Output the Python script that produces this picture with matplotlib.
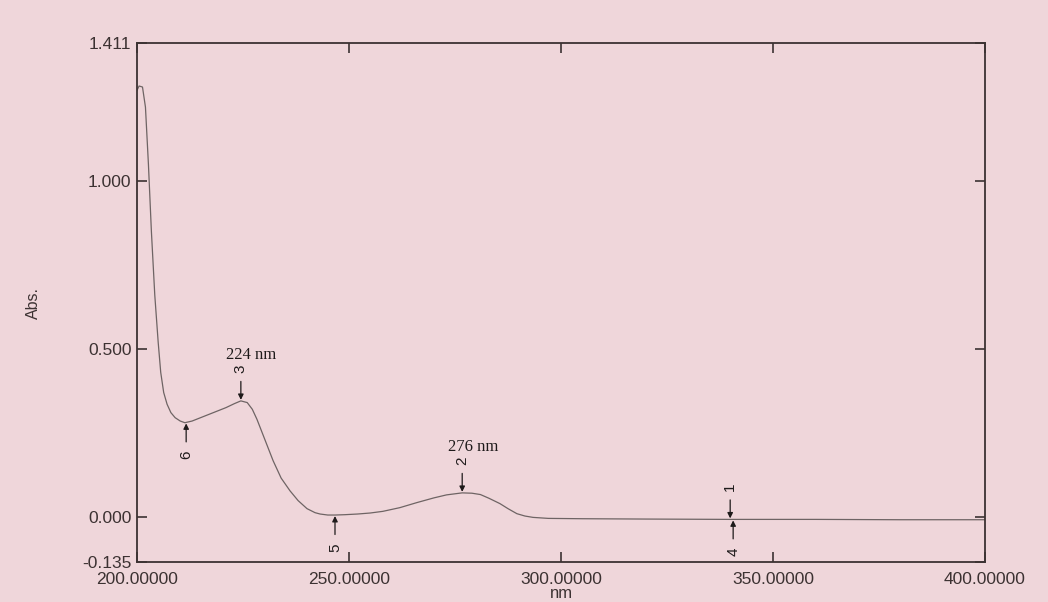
import numpy as np
import matplotlib.pyplot as plt

# spectrum (nm, Abs.)
wl = [200.0, 200.5, 201.3, 202.0, 202.7, 203.4, 204.2, 205.0, 205.6, 206.3,
      207.1, 208.0, 209.0, 210.2, 211.3, 213.0, 215.0, 217.0, 219.0, 221.0,
      223.0, 224.5, 226.0, 227.2, 228.3, 230.0, 232.1, 234.0, 236.1, 238.0,
      240.1, 242.0, 243.2, 245.0, 246.7, 249.0, 252.0, 255.0, 258.0, 262.0,
      266.0, 270.0, 273.0, 276.7, 279.0, 281.0, 283.0, 285.6, 287.5, 289.6,
      291.5, 293.4, 297.0, 305.0, 320.0, 340.0, 360.0, 380.0, 400.0]
absb = [1.270, 1.283, 1.280, 1.220, 1.050, 0.850, 0.660, 0.520, 0.430, 0.370,
        0.335, 0.310, 0.295, 0.285, 0.280, 0.285, 0.295, 0.305, 0.315, 0.325,
        0.337, 0.345, 0.340, 0.320, 0.290, 0.235, 0.167, 0.115, 0.077, 0.048,
        0.024, 0.012, 0.008, 0.005, 0.005, 0.006, 0.008, 0.011, 0.016, 0.027,
        0.042, 0.056, 0.065, 0.071, 0.070, 0.066, 0.055, 0.039, 0.024, 0.009,
        0.002, -0.002, -0.005, -0.006, -0.007, -0.008, -0.008, -0.009, -0.009]

# peak / valley picks
pick_no = ['1', '2', '3', '4', '5', '6']
pick_nm = [339.9, 276.7, 224.5, 340.6, 246.7, 211.6]
pick_kind = ['peak', 'peak', 'peak', 'valley', 'valley', 'valley']
pick_note = ['', '276 nm', '224 nm', '', '', '']

yticks = [-0.135, 0.0, 0.5, 1.0, 1.411]
ylabels = ['-0.135', '0.000', '0.500', '1.000', '1.411']
xticks = [200, 250, 300, 350, 400]
xlabels = ['200.00000', '250.00000', '300.00000', '350.00000', '400.00000']

paper = '#efd6da'
ink = '#3c3232'

fig = plt.figure(figsize=(10.48, 6.02), dpi=100, facecolor=paper)
ax = fig.add_axes([0.1307, 0.0664, 0.8092, 0.8621], facecolor=paper)

ax.plot(wl, absb, color='#6e6464', lw=0.9)

ax.set_xlim(200, 400)
ax.set_ylim(-0.135, 1.411)
ax.set_xticks(xticks)
ax.set_xticklabels(xlabels)
ax.set_yticks(yticks)
ax.set_yticklabels(ylabels)
ax.tick_params(direction='in', length=7, width=1.2, color=ink, labelcolor=ink,
               labelsize=12.5, top=True, right=True)
ax.tick_params(axis='x', pad=7)
ax.tick_params(axis='y', pad=4)
for t in ax.get_xticklabels() + ax.get_yticklabels():
    t.set_family('Liberation Sans')

for s in ax.spines.values():
    s.set_color(ink)
    s.set_linewidth(1.3)

ax.set_xlabel('nm', family='Liberation Sans', fontsize=12, color=ink)
ax.xaxis.set_label_coords(0.5, -0.046)
ax.set_ylabel('Abs.', family='Liberation Sans', fontsize=11.5, color=ink)
ax.yaxis.set_label_coords(-0.113, 0.5)

for no, nm, kind, note in zip(pick_no, pick_nm, pick_kind, pick_note):
    val = np.interp(nm, wl, absb)
    if kind == 'peak':
        tip = val + 0.003
        tail = tip + 0.055
        num_y = tail + 0.038
    else:
        tip = val - 0.003
        tail = tip - 0.055
        num_y = tail - 0.038
    ax.annotate('', xy=(nm, tip), xytext=(nm, tail),
                arrowprops=dict(arrowstyle='-|>', color='#1e1a1a', lw=0.9,
                                mutation_scale=8, shrinkA=0, shrinkB=0))
    ax.text(nm, num_y, no, rotation=90, ha='center', va='center', fontsize=11,
            color='#1e1a1a', family='Liberation Sans')
    if note:
        ax.text(nm + 2.5, num_y + 0.04, note, ha='center', va='center',
                fontsize=12, color='#1e1a1a', family='Liberation Serif')

fig.savefig('out.png', dpi=100, facecolor=paper)
